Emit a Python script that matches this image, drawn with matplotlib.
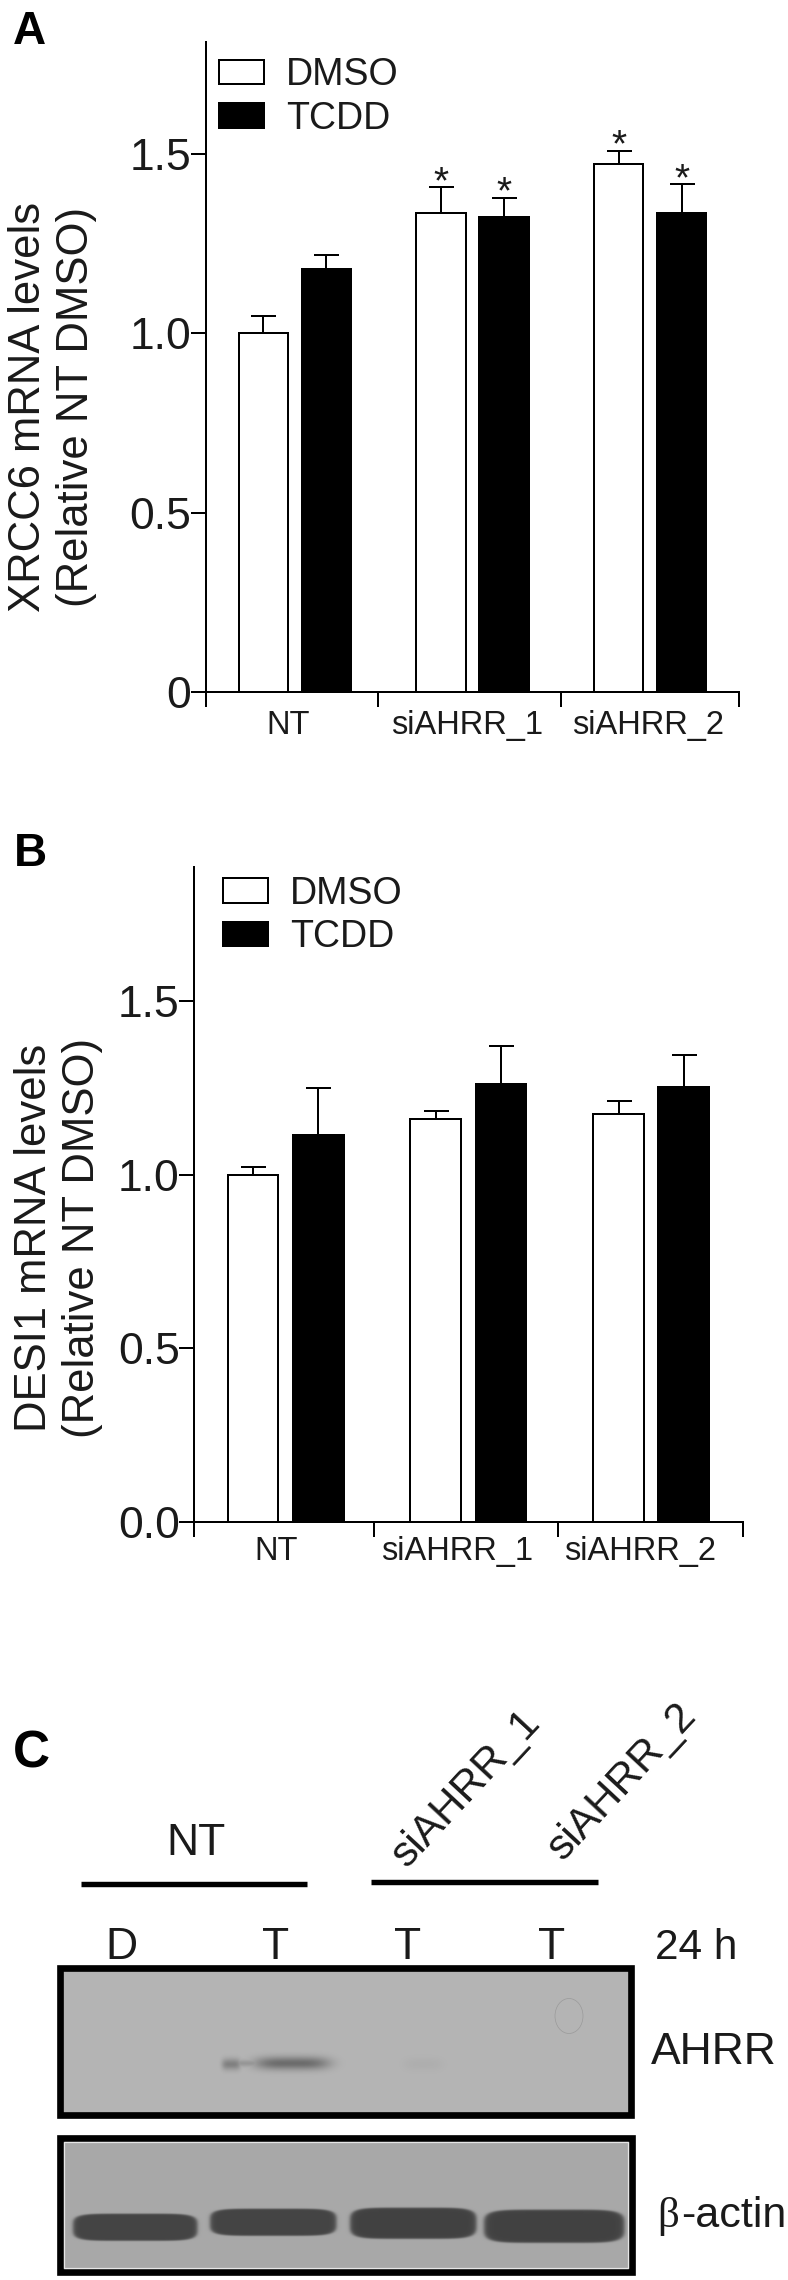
import numpy as np
import matplotlib
matplotlib.use("Agg")
import matplotlib.pyplot as plt
from matplotlib.patches import Rectangle, Ellipse

plt.rcParams['font.family'] = ['Liberation Sans', 'DejaVu Sans']

# data
groups = ["NT", "siAHRR_1", "siAHRR_2"]
series = ["DMSO", "TCDD"]

xrcc6_dmso = [1.00, 1.336, 1.473]
xrcc6_tcdd = [1.178, 1.323, 1.336]
xrcc6_dmso_err = [0.049, 0.071, 0.036]
xrcc6_tcdd_err = [0.039, 0.055, 0.079]
xrcc6_dmso_star = [False, True, True]
xrcc6_tcdd_star = [False, True, True]

desi1_dmso = [1.00, 1.161, 1.175]
desi1_tcdd = [1.115, 1.263, 1.255]
desi1_dmso_err = [0.022, 0.024, 0.039]
desi1_tcdd_err = [0.137, 0.110, 0.092]

W, H = 788, 2280
TEXT = "#1a1a1a"
LW = 1.44


def place(fig, left, right, top, bottom):
    return fig.add_axes([left / W, 1 - bottom / H, (right - left) / W, (bottom - top) / H])


def bar_panel(ax, dmso, tcdd, dmso_err, tcdd_err, ymax, yticks, ylabels, ylabel,
              bounds, label_pos, sep, label_xy, legend_xy, xpad):
    x = np.arange(len(groups))
    w = 0.278
    b1 = ax.bar(x - sep / 2, dmso, w, color="white", edgecolor="black", linewidth=LW, label=series[0])
    b2 = ax.bar(x + sep / 2, tcdd, w, color="black", edgecolor="black", linewidth=LW, label=series[1])
    ax.errorbar(x - sep / 2, dmso, yerr=[np.zeros(3), dmso_err], fmt="none", ecolor="black",
                elinewidth=LW, capsize=9, capthick=LW)
    ax.errorbar(x + sep / 2, tcdd, yerr=[np.zeros(3), tcdd_err], fmt="none", ecolor="black",
                elinewidth=LW, capsize=9, capthick=LW)
    ax.set_xlim(-0.5, 2.5)
    ax.set_ylim(0, ymax)
    ax.patch.set_alpha(0)
    for s in ["top", "right"]:
        ax.spines[s].set_visible(False)
    for s in ["left", "bottom"]:
        ax.spines[s].set_linewidth(LW)
    ax.set_yticks(yticks)
    ax.set_yticklabels(ylabels, fontsize=32, color=TEXT)
    ax.tick_params(axis="y", length=10.5, width=LW, pad=0)
    ax.set_xticks(bounds)
    ax.set_xticklabels([])
    ax.tick_params(axis="x", which="major", length=10.5, width=LW)
    ax.set_xticks(label_pos, minor=True)
    ax.set_xticklabels(groups, minor=True, fontsize=23.5, color=TEXT)
    ax.tick_params(axis="x", which="minor", length=0, pad=xpad)
    ax.set_ylabel(ylabel, fontsize=31.4, color=TEXT, linespacing=1.2)
    ax.yaxis.set_label_coords(*label_xy)
    ax.legend(handles=[b1, b2], loc="upper left", bbox_to_anchor=legend_xy, frameon=False,
              fontsize=27, handlelength=1.2, handleheight=0.62, handletextpad=0.6,
              labelspacing=0.2, borderpad=0, borderaxespad=0, labelcolor=TEXT)
    return x


fig = plt.figure(figsize=(W / 100, H / 100), dpi=100, facecolor="white")

# canvas in pixels for the blot panel and the panel letters
canvas = fig.add_axes([0, 0, 1, 1], zorder=0)

# panel A
ax_a = place(fig, 206, 739, 41.7, 692)
ax_a.set_zorder(1)
x_a = bar_panel(ax_a, xrcc6_dmso, xrcc6_tcdd, xrcc6_dmso_err, xrcc6_tcdd_err, 1.813,
                [0, 0.5, 1.0, 1.5], ["0", "0.5", "1.0", "1.5"],
                "XRCC6 mRNA levels\n(Relative NT DMSO)",
                [-0.5, 0.47, 1.5, 2.5], [-0.04, 0.97, 1.99], 0.354,
                (-0.205, 0.438), (0.024, 0.976), 13)
for i in range(3):
    if xrcc6_dmso_star[i]:
        ax_a.annotate("*", (x_a[i] - 0.177, xrcc6_dmso[i] + xrcc6_dmso_err[i]), xytext=(0, -4),
                      textcoords="offset points", ha="center", va="baseline", fontsize=28, color=TEXT)
    if xrcc6_tcdd_star[i]:
        ax_a.annotate("*", (x_a[i] + 0.177, xrcc6_tcdd[i] + xrcc6_tcdd_err[i]), xytext=(0, -4),
                      textcoords="offset points", ha="center", va="baseline", fontsize=28, color=TEXT)

# panel B
ax_b = place(fig, 194.3, 742.6, 866.5, 1522)
ax_b.set_zorder(1)
bar_panel(ax_b, desi1_dmso, desi1_tcdd, desi1_dmso_err, desi1_tcdd_err, 1.889,
          [0, 0.5, 1.0, 1.5], ["0.0", "0.5", "1.0", "1.5"],
          "DESI1 mRNA levels\n(Relative NT DMSO)",
          [-0.5, 0.485, 1.49, 2.5], [-0.05, 0.94, 1.94], 0.357,
          (-0.167, 0.433), (0.052, 0.986), 10)

# panel C, western blot
lane_labels = ["D", "T", "T", "T"]
lane_x = [121, 276, 408, 552]

ahrr_bands = [  # cx, half width, cy, half height, grey
    (292, 40, 2063, 7.5, 108),
    (231, 10, 2064, 6.5, 128),
    (246, 18, 2063, 4.0, 150),
    (423, 22, 2064, 8.0, 174),
]
actin_bands = [
    (135, 62, 2227, 13.5, 68),
    (273, 63, 2222, 13.5, 68),
    (413, 63, 2223, 15.5, 66),
    (554, 70, 2226, 16.5, 66),
]


def ahrr_image(x0, x1, y0, y1, bg, bands):
    # soft, faint bands
    xs, ys = np.meshgrid(np.arange(x0, x1, 0.5), np.arange(y0, y1, 0.5))
    drop = np.zeros(xs.shape)
    for cx, hw, cy, hh, grey in bands:
        d = np.abs((xs - cx) / hw) ** 4 + np.abs((ys - cy) / hh) ** 2
        drop = np.maximum(drop, np.exp(-d * 1.3) * (bg - grey))
    return bg - drop


def actin_image(x0, x1, y0, y1, bg, bands):
    # dark bands with rounded corners and a fairly crisp edge
    xs, ys = np.meshgrid(np.arange(x0, x1, 0.5), np.arange(y0, y1, 0.5))
    img = np.full(xs.shape, float(bg))
    for cx, hw, cy, hh, grey in bands:
        d = np.abs((xs - cx) / hw) ** 6 + np.abs((ys - cy) / hh) ** 4
        a = 1 / (1 + np.exp(np.clip((d - 1) * 9, -30, 30)))
        img = img - a * (img - grey)
    return img


canvas.imshow(ahrr_image(60, 632, 1968, 2115, 181, ahrr_bands), cmap="gray", vmin=0, vmax=255,
              extent=(60, 632, 2115, 1968), aspect="auto", interpolation="bilinear")
canvas.imshow(actin_image(60, 634, 2138, 2272, 168, actin_bands), cmap="gray", vmin=0, vmax=255,
              extent=(60, 634, 2272, 2138), aspect="auto", interpolation="bilinear")
canvas.add_patch(Rectangle((60.5, 1968), 571, 147, fill=False, edgecolor="black", linewidth=4.8))
canvas.add_patch(Rectangle((60, 2137.5), 572, 134, fill=False, edgecolor="black", linewidth=4.8))
canvas.add_patch(Rectangle((64, 2141.5), 564, 126, fill=False, edgecolor="#e6e6e6", linewidth=0.9))
canvas.add_patch(Ellipse((569, 2016), 28, 35, fill=False, edgecolor="#9a9a9a", linewidth=0.5))

canvas.plot([80.6, 307], [1884, 1884], color="black", linewidth=3.9, solid_capstyle="butt")
canvas.plot([371, 598], [1882, 1882], color="black", linewidth=3.9, solid_capstyle="butt")

canvas.text(196.5, 1843.5, groups[0], fontsize=32, color=TEXT, ha="center", va="center")
canvas.text(466, 1789, groups[1], fontsize=30.5, color=TEXT, ha="center", va="center", rotation=47,
            rotation_mode="anchor")
canvas.text(622, 1782, groups[2], fontsize=30.5, color=TEXT, ha="center", va="center", rotation=47,
            rotation_mode="anchor")
for lx, lab in zip(lane_x, lane_labels):
    canvas.text(lx, 1959, lab, fontsize=32, color=TEXT, ha="center", va="baseline")
canvas.text(655, 1959, "24 h", fontsize=30.5, color=TEXT, ha="left", va="baseline")
canvas.text(651, 2064, "AHRR", fontsize=32, color=TEXT, ha="left", va="baseline")
canvas.text(657, 2227, "β", fontsize=31, color=TEXT, ha="left", va="baseline", family="Liberation Serif")
canvas.text(681, 2227, "-actin", fontsize=31, color=TEXT, ha="left", va="baseline")

# panel letters
canvas.text(13, 44, "A", fontsize=33, fontweight="bold", color="black", ha="left", va="baseline")
canvas.text(14, 866, "B", fontsize=33, fontweight="bold", color="black", ha="left", va="baseline")
canvas.text(13, 1767, "C", fontsize=37, fontweight="bold", color="black", ha="left", va="baseline")

canvas.set_xlim(0, W)
canvas.set_ylim(H, 0)
canvas.axis("off")

fig.savefig("out.png", dpi=100)
